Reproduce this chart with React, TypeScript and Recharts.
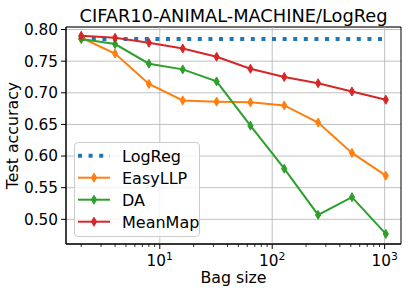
import React from 'react';
import { LineChart, Line, XAxis, YAxis, CartesianGrid, ReferenceLine, ReferenceArea } from 'recharts';

const BAG_SIZES = [2, 4, 8, 16, 32, 64, 128, 256, 512, 1024];
const LOGREG = [0.785, 0.785, 0.785, 0.785, 0.785, 0.785, 0.785, 0.785, 0.785, 0.785];
const EASYLLP = [0.787, 0.762, 0.714, 0.688, 0.686, 0.685, 0.68, 0.653, 0.605, 0.569];
const DA = [0.785, 0.777, 0.746, 0.737, 0.718, 0.648, 0.58, 0.507, 0.535, 0.477];
const MEANMAP = [0.79, 0.787, 0.779, 0.77, 0.757, 0.738, 0.725, 0.715, 0.702, 0.689];

const Y_TICKS = [0.5, 0.55, 0.6, 0.65, 0.7, 0.75, 0.8];
const X_MAJOR = [10, 100, 1000];
const X_EXPONENTS = ['1', '2', '3'];
const X_MINOR = [2, 3, 4, 5, 6, 7, 8, 9, 20, 30, 40, 50, 60, 70, 80, 90, 200, 300, 400, 500, 600, 700, 800, 900];

const X_DOMAIN = [1.4645, 1398];
const Y_DOMAIN = [0.461, 0.804];

const FONT = '"DejaVu Sans", sans-serif';
const FS = 15.3;
const GRID = '#b0b0b0';

const SERIES = [
  { key: 'logreg', name: 'LogReg', color: '#1f77b4', dotted: true },
  { key: 'easyllp', name: 'EasyLLP', color: '#ff7f0e', dotted: false },
  { key: 'da', name: 'DA', color: '#2ca02c', dotted: false },
  { key: 'meanmap', name: 'MeanMap', color: '#d62728', dotted: false },
];

const rows = BAG_SIZES.map((size, i) => ({
  size,
  logreg: LOGREG[i],
  easyllp: EASYLLP[i],
  da: DA[i],
  meanmap: MEANMAP[i],
}));

function thinDiamond(cx: number, cy: number) {
  return `M${cx},${cy - 4.5}L${cx + 2.6},${cy}L${cx},${cy + 4.5}L${cx - 2.6},${cy}Z`;
}

function XTick({ x, y, payload }: any) {
  const i = X_MAJOR.indexOf(payload.value);
  if (i < 0) {
    return <line x1={x} x2={x} y1={y} y2={y + 3} stroke="#000" strokeWidth={0.8} />;
  }
  return (
    <g>
      <line x1={x} x2={x} y1={y} y2={y + 5} stroke="#000" strokeWidth={1} />
      <text x={x} y={y + 22} textAnchor="middle" fontSize={FS} fill="#000" fontFamily={FONT}>
        10<tspan dy={-6.5} fontSize={10.8}>{X_EXPONENTS[i]}</tspan>
      </text>
    </g>
  );
}

function ChartLegend() {
  return (
    <div
      style={{
        position: 'absolute',
        left: 74,
        top: 142,
        width: 126,
        height: 95,
        boxSizing: 'border-box',
        border: '1px solid #cccccc',
        borderRadius: 4,
        background: 'rgba(255,255,255,0.8)',
      }}
    >
      <svg width={124} height={93} style={{ position: 'absolute', left: -1, top: -1, overflow: 'visible' }}>
        {SERIES.map((s, i) => {
          const cy = 13.7 + i * 22;
          return (
            <g key={s.key}>
              {s.dotted ? (
                <line x1={4} x2={36} y1={cy} y2={cy} stroke={s.color} strokeWidth={4} strokeDasharray="4 6.6" />
              ) : (
                <>
                  <line x1={4} x2={36} y1={cy} y2={cy} stroke={s.color} strokeWidth={2} />
                  <path d={thinDiamond(20, cy)} fill={s.color} stroke={s.color} strokeWidth={1} />
                </>
              )}
              <text x={48} y={cy + 5.8} fontSize={16} fill="#000" fontFamily={FONT}>
                {s.name}
              </text>
            </g>
          );
        })}
      </svg>
    </div>
  );
}

export default function App() {
  return (
    <div style={{ position: 'absolute', left: 0, top: 0, width: 408, height: 296, background: '#fff', fontFamily: FONT }}>
      <div
        style={{
          position: 'absolute',
          left: 66,
          top: 6.5,
          width: 335,
          textAlign: 'center',
          fontSize: 17.8,
          lineHeight: 1,
          color: '#000',
          whiteSpace: 'nowrap',
        }}
      >
        CIFAR10-ANIMAL-MACHINE/LogReg
      </div>
      <LineChart width={408} height={296} data={rows} margin={{ top: 27, right: 7, bottom: 0, left: 0 }}>
        <CartesianGrid vertical={false} stroke={GRID} strokeWidth={0.8} />
        {X_MAJOR.map((v) => (
          <ReferenceLine key={v} x={v} stroke={GRID} strokeWidth={0.8} />
        ))}
        <XAxis
          dataKey="size"
          type="number"
          scale="log"
          domain={X_DOMAIN}
          allowDataOverflow
          ticks={[...X_MINOR, ...X_MAJOR].sort((a, b) => a - b)}
          interval={0}
          tick={<XTick />}
          tickLine={false}
          tickSize={0}
          tickMargin={0}
          axisLine={{ stroke: '#000' }}
          height={52}
          label={{ value: 'Bag size', position: 'insideBottom', offset: 12.7, fill: '#000', fontSize: 15.8 }}
        />
        <YAxis
          type="number"
          domain={Y_DOMAIN}
          allowDataOverflow
          ticks={Y_TICKS}
          interval={0}
          tickFormatter={(v: number) => v.toFixed(2)}
          tick={{ fill: '#000', fontSize: FS }}
          tickLine={{ stroke: '#000' }}
          tickSize={5}
          tickMargin={3}
          axisLine={{ stroke: '#000' }}
          width={66}
          label={{
            value: 'Test accuracy',
            angle: -90,
            position: 'insideLeft',
            offset: 12.5,
            fill: '#000',
            fontSize: 15.8,
            style: { textAnchor: 'middle' },
          }}
        />
        {SERIES.map((s) =>
          s.dotted ? (
            <Line
              key={s.key}
              dataKey={s.key}
              stroke={s.color}
              strokeWidth={4}
              strokeDasharray="4 6.6"
              dot={false}
              activeDot={false}
              isAnimationActive={false}
            />
          ) : (
            <Line
              key={s.key}
              dataKey={s.key}
              stroke={s.color}
              strokeWidth={2}
              activeDot={false}
              isAnimationActive={false}
              dot={(p: any) => (
                <path key={`${s.key}-${p.index}`} d={thinDiamond(p.cx, p.cy)} fill={s.color} stroke={s.color} strokeWidth={1} />
              )}
            />
          )
        )}
        <ReferenceArea
          x1={X_DOMAIN[0]}
          x2={X_DOMAIN[1]}
          y1={Y_DOMAIN[0]}
          y2={Y_DOMAIN[1]}
          fill="none"
          fillOpacity={0}
          stroke="#000"
          strokeWidth={1}
        />
      </LineChart>
      <ChartLegend />
    </div>
  );
}
